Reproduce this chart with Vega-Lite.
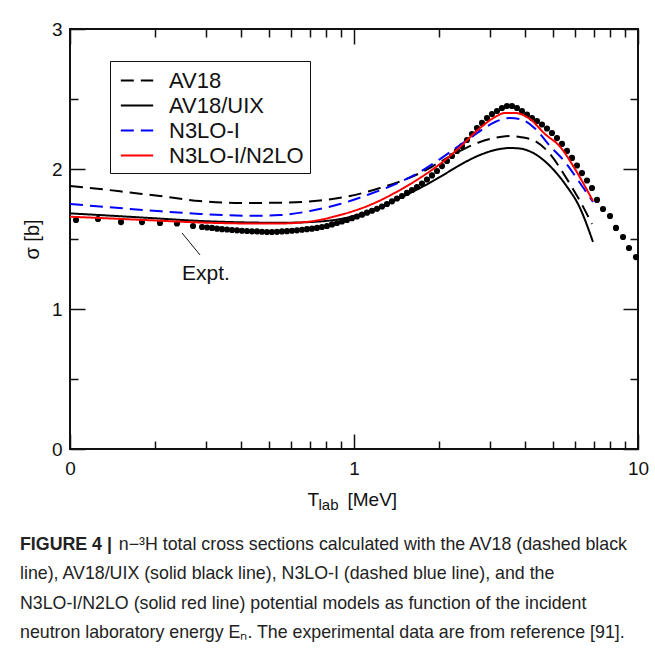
{
  "$schema": "https://vega.github.io/schema/vega-lite/v6.json",
  "width": 568,
  "height": 420,
  "autosize": {"type": "none"},
  "padding": {"left": 70, "top": 29, "right": 17, "bottom": 199},
  "background": "white",
  "config": {
    "view": {"stroke": "#111", "strokeWidth": 2},
    "font": "Liberation Sans",
    "axis": {"domain": false, "grid": false, "tickColor": "#111", "tickWidth": 1.5, "labelFont": "Liberation Sans", "titleFont": "Liberation Sans", "labelColor": "#111", "titleColor": "#111", "titleFontWeight": "normal", "labelFlush": false}
  },
  "title": {
    "text": "FIGURE 4 |",
    "subtitle": [
      "\u200b\u00a0\u00a0\u00a0\u00a0\u00a0\u00a0\u00a0\u00a0\u00a0\u00a0\u00a0\u00a0\u00a0\u00a0\u00a0\u00a0\u00a0\u00a0\u00a0\u00a0n\u2212\u00b3H total cross sections calculated with the AV18 (dashed black",
      "line), AV18/UIX (solid black line), N3LO-I (dashed blue line), and the",
      "N3LO-I/N2LO (solid red line) potential models as function of the incident",
      "neutron laboratory energy E\u2099. The experimental data are from reference [91]."
    ],
    "orient": "bottom",
    "anchor": "start",
    "frame": "group",
    "dx": -50,
    "offset": 24,
    "font": "Liberation Sans",
    "fontSize": 17.8,
    "fontWeight": "bold",
    "color": "#222",
    "subtitleFont": "Liberation Sans",
    "subtitleFontSize": 17.8,
    "subtitleColor": "#222",
    "subtitleLineHeight": 29.3,
    "subtitlePadding": -17.8
  },
  "datasets": {
    "exp": [
      {"E": 0.105, "s": 1.636}, {"E": 0.1255, "s": 1.643}, {"E": 0.1512, "s": 1.621}, {"E": 0.1793, "s": 1.621},
      {"E": 0.2074, "s": 1.614}, {"E": 0.2381, "s": 1.611}, {"E": 0.2711, "s": 1.593},
      {"E": 0.2916, "s": 1.586}, {"E": 0.3037, "s": 1.582}, {"E": 0.3162, "s": 1.579}, {"E": 0.3293, "s": 1.574},
      {"E": 0.3429, "s": 1.570}, {"E": 0.3571, "s": 1.568}, {"E": 0.3719, "s": 1.564}, {"E": 0.3873, "s": 1.562},
      {"E": 0.4033, "s": 1.559}, {"E": 0.42, "s": 1.557}, {"E": 0.4373, "s": 1.555}, {"E": 0.4554, "s": 1.554},
      {"E": 0.4743, "s": 1.552}, {"E": 0.4939, "s": 1.550}, {"E": 0.5143, "s": 1.550}, {"E": 0.5356, "s": 1.551},
      {"E": 0.5577, "s": 1.554}, {"E": 0.5808, "s": 1.556}, {"E": 0.6048, "s": 1.559}, {"E": 0.6298, "s": 1.562},
      {"E": 0.6559, "s": 1.566}, {"E": 0.683, "s": 1.570}, {"E": 0.7113, "s": 1.574}, {"E": 0.7407, "s": 1.579},
      {"E": 0.7713, "s": 1.586}, {"E": 0.8032, "s": 1.593}, {"E": 0.8365, "s": 1.604}, {"E": 0.8711, "s": 1.614},
      {"E": 0.9071, "s": 1.625}, {"E": 0.9449, "s": 1.636}, {"E": 0.9839, "s": 1.648}, {"E": 1.0246, "s": 1.661},
      {"E": 1.067, "s": 1.674}, {"E": 1.1111, "s": 1.688}, {"E": 1.1571, "s": 1.702}, {"E": 1.205, "s": 1.716},
      {"E": 1.2548, "s": 1.732}, {"E": 1.3067, "s": 1.750}, {"E": 1.3608, "s": 1.769}, {"E": 1.4171, "s": 1.789},
      {"E": 1.4757, "s": 1.807}, {"E": 1.5367, "s": 1.829}, {"E": 1.6003, "s": 1.850}, {"E": 1.6665, "s": 1.871},
      {"E": 1.7354, "s": 1.896}, {"E": 1.8072, "s": 1.925}, {"E": 1.882, "s": 1.954}, {"E": 1.9598, "s": 1.986},
      {"E": 2.0409, "s": 2.021}, {"E": 2.1253, "s": 2.057}, {"E": 2.2132, "s": 2.093}, {"E": 2.3048, "s": 2.129},
      {"E": 2.4001, "s": 2.164}, {"E": 2.4994, "s": 2.207}, {"E": 2.6028, "s": 2.250}, {"E": 2.7105, "s": 2.293},
      {"E": 2.8226, "s": 2.329}, {"E": 2.9393, "s": 2.364}, {"E": 3.0609, "s": 2.393}, {"E": 3.1876, "s": 2.414},
      {"E": 3.3194, "s": 2.436}, {"E": 3.4567, "s": 2.450}, {"E": 3.5997, "s": 2.450}, {"E": 3.7486, "s": 2.436},
      {"E": 3.9037, "s": 2.414}, {"E": 4.0651, "s": 2.389}, {"E": 4.2333, "s": 2.364}, {"E": 4.4084, "s": 2.343},
      {"E": 4.5908, "s": 2.318}, {"E": 4.7807, "s": 2.289}, {"E": 4.9784, "s": 2.257}, {"E": 5.1844, "s": 2.221},
      {"E": 5.3988, "s": 2.179}, {"E": 5.6234, "s": 2.129}, {"E": 5.856, "s": 2.079}, {"E": 6.0983, "s": 2.025},
      {"E": 6.3505, "s": 1.971}, {"E": 6.6132, "s": 1.918}, {"E": 6.8868, "s": 1.864},
      {"E": 7.172, "s": 1.779}, {"E": 7.53, "s": 1.714}, {"E": 7.969, "s": 1.664}, {"E": 8.365, "s": 1.579},
      {"E": 8.857, "s": 1.514}, {"E": 9.297, "s": 1.436}, {"E": 9.839, "s": 1.371}
    ],
    "theory": [
      {"model": "AV18", "E": 0.1, "s": 1.879}, {"model": "AV18", "E": 0.12755, "s": 1.857},
      {"model": "AV18", "E": 0.16268, "s": 1.832}, {"model": "AV18", "E": 0.20743, "s": 1.807},
      {"model": "AV18", "E": 0.28697, "s": 1.771}, {"model": "AV18", "E": 0.39698, "s": 1.757},
      {"model": "AV18", "E": 0.54878, "s": 1.759}, {"model": "AV18", "E": 0.75897, "s": 1.775},
      {"model": "AV18", "E": 0.9681, "s": 1.807}, {"model": "AV18", "E": 1.23438, "s": 1.864},
      {"model": "AV18", "E": 1.45218, "s": 1.911}, {"model": "AV18", "E": 1.70762, "s": 1.971},
      {"model": "AV18", "E": 2.0083, "s": 2.05}, {"model": "AV18", "E": 2.3617, "s": 2.129},
      {"model": "AV18", "E": 2.7776, "s": 2.193}, {"model": "AV18", "E": 3.2664, "s": 2.229},
      {"model": "AV18", "E": 3.5424, "s": 2.236}, {"model": "AV18", "E": 3.8418, "s": 2.229},
      {"model": "AV18", "E": 4.3384, "s": 2.2}, {"model": "AV18", "E": 4.8989, "s": 2.107},
      {"model": "AV18", "E": 5.5342, "s": 1.95}, {"model": "AV18", "E": 6.2478, "s": 1.771},
      {"model": "AV18", "E": 6.887, "s": 1.607},
      {"model": "AV18/UIX", "E": 0.1, "s": 1.683}, {"model": "AV18/UIX", "E": 0.12755, "s": 1.671},
      {"model": "AV18/UIX", "E": 0.19127, "s": 1.65}, {"model": "AV18/UIX", "E": 0.28697, "s": 1.629},
      {"model": "AV18/UIX", "E": 0.43043, "s": 1.618}, {"model": "AV18/UIX", "E": 0.54878, "s": 1.616},
      {"model": "AV18/UIX", "E": 0.69993, "s": 1.621}, {"model": "AV18/UIX", "E": 0.89264, "s": 1.643},
      {"model": "AV18/UIX", "E": 1.13838, "s": 1.7}, {"model": "AV18/UIX", "E": 1.45218, "s": 1.793},
      {"model": "AV18/UIX", "E": 1.70762, "s": 1.864}, {"model": "AV18/UIX", "E": 2.0083, "s": 1.943},
      {"model": "AV18/UIX", "E": 2.3617, "s": 2.029}, {"model": "AV18/UIX", "E": 2.7776, "s": 2.1},
      {"model": "AV18/UIX", "E": 3.2664, "s": 2.143}, {"model": "AV18/UIX", "E": 3.5424, "s": 2.15},
      {"model": "AV18/UIX", "E": 3.8418, "s": 2.146}, {"model": "AV18/UIX", "E": 4.3384, "s": 2.107},
      {"model": "AV18/UIX", "E": 4.8989, "s": 2.021}, {"model": "AV18/UIX", "E": 5.5342, "s": 1.893},
      {"model": "AV18/UIX", "E": 6.2478, "s": 1.721}, {"model": "AV18/UIX", "E": 6.9432, "s": 1.479},
      {"model": "N3LO-I", "E": 0.1, "s": 1.75}, {"model": "N3LO-I", "E": 0.12755, "s": 1.732},
      {"model": "N3LO-I", "E": 0.19127, "s": 1.704}, {"model": "N3LO-I", "E": 0.28697, "s": 1.679},
      {"model": "N3LO-I", "E": 0.43043, "s": 1.666}, {"model": "N3LO-I", "E": 0.54878, "s": 1.671},
      {"model": "N3LO-I", "E": 0.69993, "s": 1.7}, {"model": "N3LO-I", "E": 0.89264, "s": 1.75},
      {"model": "N3LO-I", "E": 1.13838, "s": 1.821}, {"model": "N3LO-I", "E": 1.45218, "s": 1.907},
      {"model": "N3LO-I", "E": 1.70762, "s": 1.979}, {"model": "N3LO-I", "E": 2.0083, "s": 2.071},
      {"model": "N3LO-I", "E": 2.3617, "s": 2.171}, {"model": "N3LO-I", "E": 2.7776, "s": 2.271},
      {"model": "N3LO-I", "E": 3.1368, "s": 2.336}, {"model": "N3LO-I", "E": 3.5424, "s": 2.364},
      {"model": "N3LO-I", "E": 3.8418, "s": 2.357}, {"model": "N3LO-I", "E": 4.3384, "s": 2.29},
      {"model": "N3LO-I", "E": 4.8989, "s": 2.164}, {"model": "N3LO-I", "E": 5.5342, "s": 2.05},
      {"model": "N3LO-I", "E": 6.2478, "s": 1.9}, {"model": "N3LO-I", "E": 6.9432, "s": 1.764},
      {"model": "N3LO-I/N2LO", "E": 0.1, "s": 1.659}, {"model": "N3LO-I/N2LO", "E": 0.12755, "s": 1.65},
      {"model": "N3LO-I/N2LO", "E": 0.19127, "s": 1.634}, {"model": "N3LO-I/N2LO", "E": 0.28697, "s": 1.618},
      {"model": "N3LO-I/N2LO", "E": 0.43043, "s": 1.611}, {"model": "N3LO-I/N2LO", "E": 0.54878, "s": 1.611},
      {"model": "N3LO-I/N2LO", "E": 0.69993, "s": 1.625}, {"model": "N3LO-I/N2LO", "E": 0.89264, "s": 1.671},
      {"model": "N3LO-I/N2LO", "E": 1.13838, "s": 1.743}, {"model": "N3LO-I/N2LO", "E": 1.45218, "s": 1.85},
      {"model": "N3LO-I/N2LO", "E": 1.70762, "s": 1.936}, {"model": "N3LO-I/N2LO", "E": 2.0083, "s": 2.036},
      {"model": "N3LO-I/N2LO", "E": 2.3617, "s": 2.157}, {"model": "N3LO-I/N2LO", "E": 2.7776, "s": 2.293},
      {"model": "N3LO-I/N2LO", "E": 3.1368, "s": 2.371}, {"model": "N3LO-I/N2LO", "E": 3.4019, "s": 2.4},
      {"model": "N3LO-I/N2LO", "E": 3.6888, "s": 2.4}, {"model": "N3LO-I/N2LO", "E": 4.1659, "s": 2.357},
      {"model": "N3LO-I/N2LO", "E": 4.7044, "s": 2.25}, {"model": "N3LO-I/N2LO", "E": 5.3121, "s": 2.16},
      {"model": "N3LO-I/N2LO", "E": 6.0, "s": 2.0}, {"model": "N3LO-I/N2LO", "E": 6.9432, "s": 1.771}
    ]
  },
  "layer": [
    {
      "data": {"name": "exp"},
      "mark": {"type": "circle", "color": "#000", "opacity": 1, "size": 38},
      "encoding": {
        "x": {"field": "E", "type": "quantitative", "scale": {"type": "log", "domain": [0.1, 10], "nice": false},
          "axis": {"orient": "bottom", "values": [0.1, 1, 10], "tickSize": -15, "labelFontSize": 19, "labelPadding": 25, "format": ".0f",
            "title": "T", "titleFontSize": 19, "titleX": 237, "titleY": 56, "titleAlign": "left", "titleBaseline": "alphabetic", "titleAngle": 0}},
        "y": {"field": "s", "type": "quantitative", "scale": {"domain": [0, 3], "nice": false, "zero": false},
          "axis": {"orient": "left", "values": [0, 1, 2, 3], "tickSize": -15, "labelFontSize": 19, "labelPadding": 23,
            "title": "\u03c3 [b]", "titleFontSize": 20, "titleX": -38, "titleY": 210, "titleAngle": -90, "titleAlign": "center", "titleBaseline": "middle"}}
      }
    },
    {
      "data": {"name": "theory"},
      "mark": {"type": "line", "strokeWidth": 2, "interpolate": "monotone"},
      "encoding": {
        "x": {"field": "E", "type": "quantitative", "scale": {"type": "log", "domain": [0.1, 10], "nice": false},
          "axis": {"orient": "bottom", "values": [0.2, 0.3, 0.4, 0.5, 0.6, 0.7, 0.8, 0.9, 2, 3, 4, 5, 6, 7, 8, 9], "tickSize": -8, "labels": false,
            "title": "lab", "titleFontSize": 15, "titleX": 248, "titleY": 60, "titleAlign": "left", "titleBaseline": "alphabetic", "titleAngle": 0}},
        "y": {"field": "s", "type": "quantitative", "scale": {"domain": [0, 3], "nice": false, "zero": false},
          "axis": {"orient": "left", "values": [0.5, 1.5, 2.5], "tickSize": -8, "labels": false, "title": null}},
        "color": {"field": "model", "type": "nominal",
          "scale": {"domain": ["AV18", "AV18/UIX", "N3LO-I", "N3LO-I/N2LO"], "range": ["#000000", "#000000", "#0000ff", "#ff0000"]},
          "legend": {"orient": "none", "legendX": 40, "legendY": 32, "title": null, "strokeColor": "#111", "fillColor": "white", "padding": 6,
            "symbolType": "M-1.3,0H1.3", "symbolSize": 620, "symbolStrokeWidth": 2, "symbolOffset": 7.5, "labelFontSize": 22, "labelFont": "Liberation Sans", "labelColor": "#111", "rowPadding": 0, "labelOffset": 18.5}},
        "strokeDash": {"field": "model", "type": "nominal",
          "scale": {"domain": ["AV18", "AV18/UIX", "N3LO-I", "N3LO-I/N2LO"], "range": [[13, 7], [1, 0], [13, 7], [1, 0]]},
          "legend": {"orient": "none", "legendX": 40, "legendY": 32, "title": null, "strokeColor": "#111", "fillColor": "white", "padding": 6,
            "symbolType": "M-1.3,0H1.3", "symbolSize": 620, "symbolStrokeWidth": 2, "symbolOffset": 7.5, "labelFontSize": 22, "labelFont": "Liberation Sans", "labelColor": "#111", "rowPadding": 0, "labelOffset": 18.5}}
      }
    },
    {
      "data": {"values": [{"E": 0.248, "s": 1.207, "label": "Expt."}]},
      "mark": {"type": "text", "align": "left", "baseline": "alphabetic", "fontSize": 21, "font": "Liberation Sans", "color": "#111"},
      "encoding": {
        "x": {"field": "E", "type": "quantitative", "scale": {"type": "log", "domain": [0.1, 10], "nice": false},
          "axis": {"orient": "top", "values": [0.1, 1, 10], "tickSize": -15, "labels": false,
            "title": "[MeV]", "titleFontSize": 19, "titleX": 277, "titleY": 476, "titleAlign": "left", "titleBaseline": "alphabetic", "titleAngle": 0}},
        "y": {"field": "s", "type": "quantitative", "scale": {"domain": [0, 3], "nice": false, "zero": false},
          "axis": {"orient": "right", "values": [0, 1, 2, 3], "tickSize": -15, "labels": false, "title": null}},
        "text": {"field": "label"}
      }
    },
    {
      "data": {"values": [{"E": 0.248, "s": 1.543, "E2": 0.287, "s2": 1.386}]},
      "mark": {"type": "rule", "color": "#111", "strokeWidth": 1},
      "encoding": {
        "x": {"field": "E", "type": "quantitative", "scale": {"type": "log", "domain": [0.1, 10], "nice": false},
          "axis": {"orient": "top", "values": [0.2, 0.3, 0.4, 0.5, 0.6, 0.7, 0.8, 0.9, 2, 3, 4, 5, 6, 7, 8, 9], "tickSize": -8, "labels": false, "title": null}},
        "y": {"field": "s", "type": "quantitative", "scale": {"domain": [0, 3], "nice": false, "zero": false},
          "axis": {"orient": "right", "values": [0.5, 1.5, 2.5], "tickSize": -8, "labels": false, "title": null}},
        "x2": {"field": "E2"},
        "y2": {"field": "s2"}
      }
    }
  ],
  "resolve": {"axis": {"x": "independent", "y": "independent"}}
}
